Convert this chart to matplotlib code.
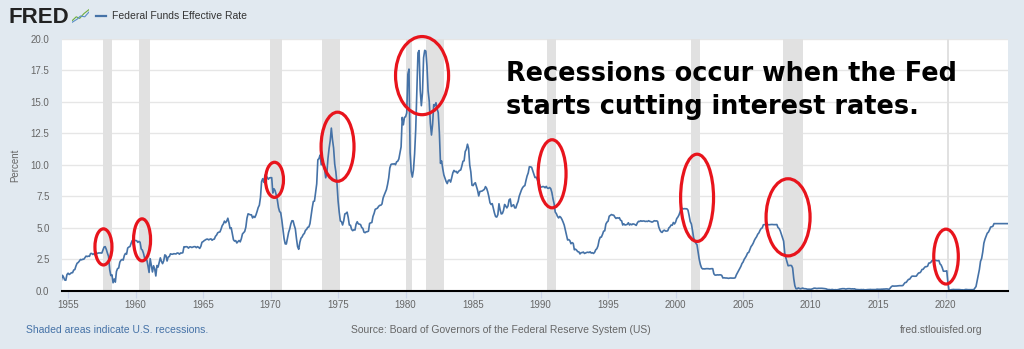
import numpy as np
import matplotlib
matplotlib.use("Agg")
import matplotlib.pyplot as plt
from matplotlib.patches import Ellipse

# Federal Funds Effective Rate, monthly, starting July 1954 (percent)
start_year = 1954
start_month = 7
rates = [
    0.80, 1.22, 1.07, 0.85, 0.83, 1.28,
    1.39, 1.29, 1.35, 1.43, 1.43, 1.64, 1.68, 1.96, 2.18, 2.24, 2.35, 2.48,
    2.45, 2.50, 2.50, 2.62, 2.75, 2.71, 2.75, 2.73, 2.95, 2.96, 2.88, 2.94,
    2.84, 3.00, 2.96, 3.00, 3.00, 3.00, 2.99, 3.24, 3.47, 3.50, 3.28, 2.98,
    2.72, 1.67, 1.20, 1.26, 0.63, 0.93, 0.68, 1.53, 1.76, 1.80, 2.27, 2.42,
    2.48, 2.43, 2.80, 2.96, 2.90, 3.39, 3.47, 3.50, 3.76, 3.98, 4.00, 3.99,
    3.99, 3.97, 3.84, 3.92, 3.85, 3.32, 3.23, 2.98, 2.60, 2.47, 2.44, 1.98,
    1.45, 2.54, 2.02, 1.49, 1.98, 1.73, 1.17, 2.00, 1.88, 2.26, 2.61, 2.33,
    2.15, 2.37, 2.85, 2.78, 2.36, 2.68, 2.71, 2.93, 2.90, 2.90, 2.94, 2.93,
    2.92, 3.00, 2.98, 2.90, 3.00, 2.99, 3.02, 3.49, 3.48, 3.50, 3.48, 3.38,
    3.48, 3.48, 3.43, 3.47, 3.50, 3.50, 3.42, 3.50, 3.45, 3.36, 3.52, 3.85,
    3.90, 3.98, 4.04, 4.09, 4.10, 4.04, 4.09, 4.12, 4.01, 4.08, 4.10, 4.32,
    4.42, 4.60, 4.65, 4.67, 4.90, 5.17, 5.30, 5.53, 5.40, 5.53, 5.76, 5.40,
    4.94, 5.00, 4.53, 4.05, 3.94, 3.98, 3.79, 3.90, 3.99, 3.88, 4.13, 4.51,
    4.61, 4.71, 5.05, 5.76, 6.11, 6.07, 6.03, 6.03, 5.78, 5.91, 5.82, 6.02,
    6.30, 6.61, 6.79, 7.41, 8.67, 8.90, 8.61, 9.19, 9.15, 9.00, 8.85, 8.97,
    8.98, 8.98, 7.76, 8.10, 7.95, 7.61, 7.21, 6.61, 6.29, 6.20, 5.60, 4.90,
    4.14, 3.72, 3.71, 4.16, 4.63, 4.91, 5.31, 5.56, 5.55, 5.20, 4.91, 4.14,
    3.50, 3.29, 3.83, 4.17, 4.27, 4.46, 4.55, 4.80, 4.87, 5.04, 5.06, 5.33,
    5.94, 6.58, 7.09, 7.12, 7.84, 8.49, 10.40, 10.50, 10.78, 10.01, 10.03, 9.95,
    9.65, 8.97, 9.35, 10.51, 11.31, 11.93, 12.92, 12.01, 11.34, 10.06, 9.45, 8.53,
    7.13, 6.24, 5.54, 5.49, 5.22, 5.55, 6.10, 6.14, 6.24, 5.82, 5.22, 5.20,
    4.87, 4.77, 4.84, 4.82, 5.29, 5.48, 5.31, 5.29, 5.25, 5.02, 4.95, 4.65,
    4.61, 4.68, 4.69, 4.73, 5.35, 5.39, 5.42, 5.90, 6.14, 6.47, 6.51, 6.56,
    6.70, 6.78, 6.79, 6.89, 7.36, 7.60, 7.81, 8.04, 8.45, 8.96, 9.76, 10.03,
    10.07, 10.06, 10.09, 10.01, 10.24, 10.29, 10.47, 10.94, 11.43, 13.77, 13.18, 13.78,
    13.82, 14.13, 17.19, 17.61, 10.98, 9.47, 9.03, 9.61, 10.87, 12.81, 15.85, 18.90,
    19.08, 15.93, 14.70, 15.72, 18.52, 19.10, 19.04, 17.82, 15.87, 15.08, 13.31, 12.37,
    13.22, 14.78, 14.68, 14.94, 14.45, 14.15, 12.59, 10.12, 10.31, 9.71, 9.20, 8.95,
    8.68, 8.51, 8.77, 8.80, 8.63, 8.98, 9.37, 9.56, 9.45, 9.48, 9.34, 9.47,
    9.56, 9.59, 9.91, 10.29, 10.32, 11.06, 11.23, 11.64, 11.30, 9.99, 9.43, 8.38,
    8.35, 8.50, 8.58, 8.27, 7.97, 7.53, 7.88, 7.90, 7.92, 7.99, 8.05, 8.27,
    8.14, 7.86, 7.48, 6.99, 6.85, 6.92, 6.56, 6.17, 5.89, 5.85, 6.04, 6.91,
    6.43, 6.10, 6.13, 6.37, 6.85, 6.73, 6.58, 6.73, 7.22, 7.29, 6.69, 6.77,
    6.83, 6.58, 6.58, 6.87, 7.09, 7.51, 7.75, 8.01, 8.19, 8.30, 8.35, 8.76,
    9.12, 9.36, 9.85, 9.84, 9.81, 9.53, 9.24, 8.99, 9.02, 8.84, 8.55, 8.45,
    8.23, 8.24, 8.28, 8.26, 8.18, 8.29, 8.15, 8.13, 8.20, 8.11, 7.81, 7.31,
    6.91, 6.25, 6.12, 5.91, 5.78, 5.90, 5.82, 5.66, 5.45, 5.21, 4.81, 4.43,
    4.03, 4.06, 3.98, 3.73, 3.82, 3.76, 3.25, 3.30, 3.22, 3.10, 3.09, 2.92,
    3.02, 3.03, 3.07, 2.96, 3.00, 3.04, 3.06, 3.03, 3.09, 2.99, 3.02, 2.96,
    3.05, 3.25, 3.34, 3.56, 4.01, 4.25, 4.26, 4.47, 4.73, 4.76, 5.29, 5.45,
    5.53, 5.92, 5.98, 6.05, 6.01, 6.00, 5.85, 5.74, 5.80, 5.76, 5.80, 5.60,
    5.56, 5.22, 5.31, 5.22, 5.24, 5.27, 5.40, 5.22, 5.30, 5.24, 5.31, 5.29,
    5.25, 5.19, 5.39, 5.51, 5.50, 5.56, 5.52, 5.54, 5.54, 5.50, 5.52, 5.50,
    5.56, 5.51, 5.49, 5.45, 5.49, 5.56, 5.54, 5.55, 5.51, 5.07, 4.83, 4.68,
    4.63, 4.76, 4.81, 4.74, 4.74, 4.76, 4.99, 5.07, 5.22, 5.20, 5.42, 5.30,
    5.45, 5.73, 5.85, 6.02, 6.27, 6.53, 6.54, 6.50, 6.52, 6.51, 6.51, 6.40,
    5.98, 5.49, 5.31, 4.80, 4.21, 3.97, 3.77, 3.65, 3.07, 2.49, 2.09, 1.82,
    1.73, 1.74, 1.73, 1.75, 1.75, 1.75, 1.73, 1.74, 1.75, 1.75, 1.34, 1.24,
    1.24, 1.26, 1.25, 1.26, 1.26, 1.22, 1.01, 1.03, 1.01, 1.01, 1.00, 0.98,
    1.00, 1.01, 1.00, 1.00, 1.00, 1.03, 1.26, 1.43, 1.61, 1.76, 1.93, 2.16,
    2.28, 2.50, 2.63, 2.79, 3.00, 3.04, 3.26, 3.50, 3.62, 3.78, 4.00, 4.16,
    4.29, 4.49, 4.59, 4.79, 4.94, 4.99, 5.24, 5.25, 5.25, 5.25, 5.25, 5.24,
    5.25, 5.26, 5.26, 5.25, 5.25, 5.25, 5.26, 5.02, 4.94, 4.76, 4.49, 4.24,
    3.94, 2.98, 2.61, 2.28, 1.98, 2.00, 2.01, 2.00, 1.81, 0.97, 0.39, 0.16,
    0.15, 0.22, 0.18, 0.15, 0.18, 0.21, 0.16, 0.16, 0.15, 0.12, 0.12, 0.12,
    0.11, 0.13, 0.16, 0.20, 0.20, 0.18, 0.18, 0.19, 0.19, 0.19, 0.19, 0.18,
    0.17, 0.16, 0.14, 0.10, 0.09, 0.09, 0.07, 0.10, 0.08, 0.07, 0.08, 0.07,
    0.08, 0.10, 0.13, 0.14, 0.16, 0.16, 0.16, 0.13, 0.14, 0.16, 0.16, 0.16,
    0.14, 0.15, 0.14, 0.15, 0.11, 0.09, 0.09, 0.08, 0.08, 0.09, 0.08, 0.09,
    0.07, 0.07, 0.08, 0.09, 0.09, 0.10, 0.09, 0.09, 0.09, 0.09, 0.09, 0.12,
    0.11, 0.11, 0.11, 0.12, 0.12, 0.13, 0.13, 0.14, 0.14, 0.12, 0.12, 0.24,
    0.34, 0.38, 0.36, 0.37, 0.37, 0.38, 0.39, 0.40, 0.40, 0.40, 0.41, 0.54,
    0.65, 0.66, 0.79, 0.90, 0.91, 1.04, 1.15, 1.16, 1.15, 1.15, 1.16, 1.30,
    1.41, 1.42, 1.51, 1.69, 1.70, 1.82, 1.91, 1.91, 1.95, 2.19, 2.20, 2.27,
    2.40, 2.40, 2.41, 2.42, 2.39, 2.38, 2.40, 2.13, 2.04, 1.83, 1.55, 1.55,
    1.55, 1.58, 0.65, 0.05, 0.05, 0.08, 0.09, 0.10, 0.09, 0.09, 0.09, 0.09,
    0.09, 0.08, 0.07, 0.07, 0.06, 0.08, 0.10, 0.09, 0.08, 0.08, 0.08, 0.08,
    0.08, 0.08, 0.20, 0.33, 0.77, 1.21, 1.68, 2.33, 2.56, 3.08, 3.78, 4.10,
    4.33, 4.57, 4.65, 4.83, 5.06, 5.08, 5.12, 5.33, 5.33, 5.33, 5.33, 5.33,
    5.33, 5.33, 5.33, 5.33, 5.33, 5.33, 5.33, 5.33,
]

# NBER recessions (start, end) in decimal years
rec_start = [1957.58, 1960.25, 1969.92, 1973.83, 1980.0, 1981.5, 1990.5, 2001.17, 2007.92, 2020.08]
rec_end = [1958.25, 1961.08, 1970.83, 1975.17, 1980.5, 1982.83, 1991.17, 2001.83, 2009.42, 2020.25]

# red circles drawn over the chart: centre (year, percent) and size (years, percent)
circ_x = [1957.62, 1960.48, 1970.29, 1974.96, 1981.22, 1990.85, 2001.59, 2008.33, 2020.03]
circ_y = [3.48, 4.04, 8.81, 11.44, 17.09, 9.29, 7.38, 5.83, 2.71]
circ_w = [1.26, 1.26, 1.33, 2.44, 3.93, 2.07, 2.44, 3.26, 1.82]
circ_h = [2.87, 3.34, 2.79, 5.49, 6.21, 5.41, 6.93, 6.13, 4.36]

note = "Recessions occur when the Fed\nstarts cutting interest rates."

BG = "#e1e9f0"
LINE = "#4572a7"
GREY = "#666666"

months = np.arange(len(rates))
t = start_year + (start_month - 1 + months) / 12.0

fig = plt.figure(figsize=(10.24, 3.49), dpi=100, facecolor=BG)
ax = fig.add_axes([62 / 1024, 1 - 290.7 / 349, 946 / 1024, 251.7 / 349])
ax.set_facecolor("white")

for a, b in zip(rec_start, rec_end):
    ax.axvspan(a, b, color="#e1e1e1", lw=0, zorder=1)

ax.plot(t, rates, color=LINE, lw=1.2, zorder=3)

for x, y, w, h in zip(circ_x, circ_y, circ_w, circ_h):
    ax.add_patch(Ellipse((x, y), w, h, fill=False, ec="#e8141c", lw=2.3,
                         zorder=5, clip_on=False))

# multi-line text with va="baseline" anchors on the last line
ax.text(506 / 1024, 1 - 113.5 / 349, note, transform=fig.transFigure,
        fontsize=18.4, fontweight="bold", family="DejaVu Sans", color="black",
        ha="left", va="baseline", linespacing=1.33, zorder=6)

ax.set_xlim(1954.55, 2024.62)
ax.set_ylim(0, 20)
ax.set_yticks(np.arange(0, 20.1, 2.5))
ax.set_yticklabels([f"{v:.1f}" for v in np.arange(0, 20.1, 2.5)])
ax.set_xticks(np.arange(1955, 2021, 5))
ax.grid(axis="y", color="#e6e6e6", lw=1, zorder=0)
ax.set_axisbelow(True)
for s in ["top", "right", "left"]:
    ax.spines[s].set_visible(False)
ax.spines["bottom"].set_color("black")
ax.spines["bottom"].set_linewidth(1.5)
ax.spines["bottom"].set_zorder(4)
ax.tick_params(axis="y", length=0, pad=9, labelsize=7, labelcolor=GREY)
ax.tick_params(axis="x", length=5, width=0.8, color="#ccd6eb", pad=1.5,
               labelsize=7, labelcolor=GREY)
for lab in ax.get_xticklabels() + ax.get_yticklabels():
    lab.set_family("Liberation Sans")

fig.text(15 / 1024, 1 - 165 / 349, "Percent", rotation=90, fontsize=7,
         color=GREY, ha="center", va="center", family="Liberation Sans")

# header: FRED mark and legend
fig.text(8 / 1024, 1 - 23 / 349, "FRED", fontsize=16, fontweight="heavy",
         family="Liberation Sans", color="#222222", ha="left", va="baseline")
icon = fig.add_axes([72 / 1024, 1 - 24 / 349, 17 / 1024, 16 / 349])
icon.set_facecolor("#d4dbe2")
icon.plot([0, 0.25, 0.45, 0.7, 1], [0.2, 0.45, 0.35, 0.65, 0.9], color="#6fae3d", lw=0.8)
icon.plot([0, 0.3, 0.5, 0.75, 1], [0.1, 0.3, 0.5, 0.45, 0.75], color="#5b8fc7", lw=0.8)
icon.set_xlim(0, 1)
icon.set_ylim(0, 1)
icon.axis("off")
icon.patch.set_visible(True)
fig.add_artist(plt.Line2D([96 / 1024, 106 / 1024], [1 - 16 / 349, 1 - 16 / 349],
                          color=LINE, lw=1.6))
fig.text(112 / 1024, 1 - 16 / 349, "Federal Funds Effective Rate", fontsize=7.5,
         color="#333333", ha="left", va="center", family="Liberation Sans")

# footer
fig.text(26 / 1024, 1 - 330 / 349, "Shaded areas indicate U.S. recessions.",
         fontsize=7.5, color=LINE, ha="left", va="center", family="Liberation Sans")
fig.text(351 / 1024, 1 - 330 / 349,
         "Source: Board of Governors of the Federal Reserve System (US)",
         fontsize=7.5, color=GREY, ha="left", va="center", family="Liberation Sans")
fig.text(983 / 1024, 1 - 330 / 349, "fred.stlouisfed.org", fontsize=7.5,
         color=GREY, ha="right", va="center", family="Liberation Sans")

fig.savefig("out.png", dpi=100, facecolor=BG)
